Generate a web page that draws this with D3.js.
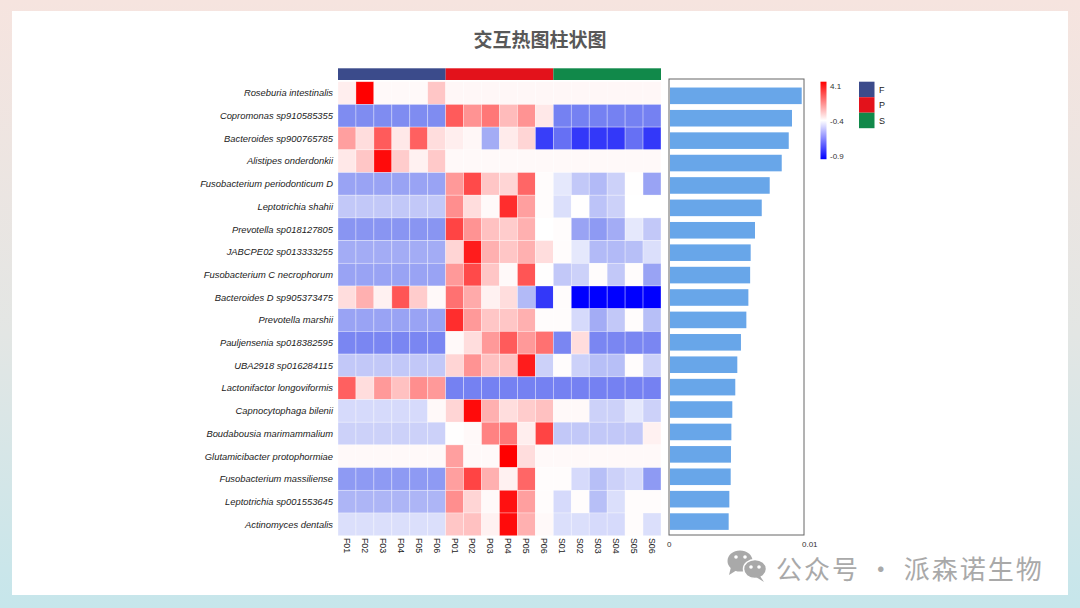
<!DOCTYPE html>
<html>
<head>
<meta charset="utf-8">
<script src="https://cdn.jsdelivr.net/npm/d3@7"></script>
<style>
  body { margin: 0; padding: 0; overflow: hidden; }
  svg { display: block; font-family: "Liberation Sans", Arial, sans-serif; }
</style>
</head>
<body>
<script>
// chart data
const species = [
  'Roseburia intestinalis', 'Copromonas sp910585355', 'Bacteroides sp900765785',
  'Alistipes onderdonkii', 'Fusobacterium periodonticum D', 'Leptotrichia shahii',
  'Prevotella sp018127805', 'JABCPE02 sp013333255', 'Fusobacterium C necrophorum',
  'Bacteroides D sp905373475', 'Prevotella marshii', 'Pauljensenia sp018382595',
  'UBA2918 sp016284115', 'Lactonifactor longoviformis', 'Capnocytophaga bilenii',
  'Boudabousia marimammalium', 'Glutamicibacter protophormiae', 'Fusobacterium massiliense',
  'Leptotrichia sp001553645', 'Actinomyces dentalis'
];

const samples = ['F01', 'F02', 'F03', 'F04', 'F05', 'F06',
                 'P01', 'P02', 'P03', 'P04', 'P05', 'P06',
                 'S01', 'S02', 'S03', 'S04', 'S05', 'S06'];

const groups = ['F', 'P', 'S'];
const groupColors = ['#3b4b8b', '#e3121b', '#11894a'];

// row-scaled values, one row per species, columns in sample order
const heatValues = [
  [-0.1, 4.1, -0.3, -0.3, -0.3, 0.6, -0.25, -0.25, -0.25, -0.25, -0.25, -0.25, -0.25, -0.25, -0.25, -0.25, -0.25, -0.25],
  [-0.65, -0.65, -0.65, -0.65, -0.65, -0.65, 2.5, 1.5, 2.0, 0.8, 1.5, 0.0, -0.67, -0.67, -0.67, -0.67, -0.67, -0.67],
  [1.3, 0.2, 2.5, 0.0, 2.4, 0.2, -0.1, -0.25, -0.58, -0.05, 0.35, -0.79, -0.7, -0.8, -0.8, -0.8, -0.7, -0.8],
  [0.0, 0.6, 3.9, 0.5, -0.15, 0.55, -0.3, -0.3, -0.3, -0.3, -0.3, -0.3, -0.3, -0.3, -0.3, -0.3, -0.3, -0.3],
  [-0.6, -0.6, -0.6, -0.6, -0.6, -0.6, 1.4, 2.8, 0.6, 0.35, 2.3, -0.35, -0.45, -0.52, -0.55, -0.5, -0.38, -0.6],
  [-0.52, -0.52, -0.52, -0.52, -0.52, -0.52, 1.6, 0.2, -0.3, 3.3, 1.3, -0.35, -0.47, -0.38, -0.53, -0.5, -0.4, -0.4],
  [-0.63, -0.63, -0.63, -0.63, -0.63, -0.63, 2.9, 1.5, 0.7, 0.5, 1.0, -0.4, -0.35, -0.6, -0.62, -0.58, -0.45, -0.52],
  [-0.58, -0.58, -0.58, -0.58, -0.58, -0.58, 0.35, 3.6, 1.0, 0.6, 1.0, 0.2, -0.35, -0.45, -0.55, -0.55, -0.54, -0.47],
  [-0.6, -0.6, -0.6, -0.6, -0.6, -0.6, 1.4, 2.8, 0.6, -0.3, 2.6, -0.38, -0.52, -0.5, -0.35, -0.52, -0.35, -0.6],
  [0.2, 1.0, -0.15, 2.6, 0.5, -0.3, 2.1, 1.1, -0.15, 0.2, -0.55, -0.8, -0.35, -0.9, -0.9, -0.9, -0.9, -0.9],
  [-0.6, -0.6, -0.6, -0.6, -0.6, -0.6, 3.3, 1.4, 0.6, 0.6, 1.0, -0.35, -0.35, -0.48, -0.58, -0.52, -0.35, -0.54],
  [-0.66, -0.66, -0.66, -0.66, -0.66, -0.66, -0.3, 0.2, 1.4, 2.5, 1.4, 2.1, -0.66, 0.2, -0.66, -0.66, -0.66, -0.66],
  [-0.52, -0.52, -0.52, -0.52, -0.52, -0.52, 0.35, 1.5, 0.7, 0.7, 3.6, -0.5, -0.35, -0.5, -0.54, -0.54, -0.35, -0.5],
  [2.4, 0.2, 1.4, 0.7, 1.6, 1.4, -0.67, -0.67, -0.67, -0.67, -0.67, -0.67, -0.67, -0.67, -0.67, -0.67, -0.67, -0.67],
  [-0.48, -0.48, -0.48, -0.48, -0.48, -0.3, 0.35, 3.9, 1.0, 0.2, 0.5, 0.7, -0.3, -0.3, -0.5, -0.5, -0.45, -0.5],
  [-0.5, -0.5, -0.5, -0.5, -0.5, -0.5, -0.38, -0.3, 1.8, 2.0, -0.1, 2.9, -0.52, -0.52, -0.52, -0.52, -0.52, -0.15],
  [-0.3, -0.3, -0.3, -0.3, -0.3, -0.3, 1.3, -0.3, -0.3, 4.1, 0.2, -0.3, -0.3, -0.3, -0.3, -0.3, -0.3, -0.3],
  [-0.62, -0.62, -0.62, -0.62, -0.62, -0.62, 1.3, 2.9, 1.0, -0.15, 2.3, -0.35, -0.35, -0.48, -0.54, -0.5, -0.48, -0.62],
  [-0.56, -0.56, -0.56, -0.56, -0.56, -0.56, 1.6, 0.35, -0.3, 3.8, 1.3, -0.35, -0.48, -0.35, -0.54, -0.47, -0.35, -0.35],
  [-0.47, -0.47, -0.47, -0.47, -0.47, -0.47, 0.6, 0.7, -0.15, 3.9, 1.0, -0.3, -0.47, -0.47, -0.48, -0.48, -0.35, -0.47]
];

// mean relative abundance per species
const abundance = [0.00983, 0.00911, 0.00887, 0.00835, 0.00746, 0.00687, 0.00637, 0.00605,
                   0.00601, 0.00588, 0.00573, 0.00533, 0.00506, 0.00491, 0.00469, 0.00462,
                   0.00459, 0.00457, 0.00447, 0.00442];

const legendTicks = [4.1, -0.4, -0.9];
const barTicks = [0, 0.01];

let width = 1080;
let height = 608;

let svg = d3.select('body')
  .append('svg')
  .attr('width', width)
  .attr('height', height);

let defs = svg.append('defs');

// page background
let bg = defs.append('linearGradient')
  .attr('id', 'bg')
  .attr('x1', 0).attr('y1', 0)
  .attr('x2', 0).attr('y2', 1);
bg.append('stop').attr('offset', '0%').attr('stop-color', '#f6e4df');
bg.append('stop').attr('offset', '55%').attr('stop-color', '#e3e6e4');
bg.append('stop').attr('offset', '100%').attr('stop-color', '#c6e6eb');

svg.append('rect')
  .attr('width', width)
  .attr('height', height)
  .attr('fill', 'url(#bg)');

svg.append('rect')
  .attr('x', 12)
  .attr('y', 11)
  .attr('width', 1056)
  .attr('height', 584)
  .attr('fill', '#ffffff');

svg.append('text')
  .attr('x', 540)
  .attr('y', 47)
  .attr('text-anchor', 'middle')
  .style('font-family', '"Noto Sans CJK SC", sans-serif')
  .style('font-size', '19px')
  .style('font-weight', 'bold')
  .attr('fill', '#585858')
  .text('交互热图柱状图');

// scales
let x = d3.scaleBand().domain(samples).range([338, 661]);
let y = d3.scaleBand().domain(species).range([81.7, 535.7]);

let color = d3.scaleLinear()
  .domain([-0.9, -0.65, -0.4, 4.1])
  .range(['#0000ff', '#7f8cf1', '#ffffff', '#ff0000'])
  .clamp(true);

let groupColor = d3.scaleOrdinal().domain(groups).range(groupColors);

// group annotation bar, one block per group
svg.append('g')
  .selectAll('rect')
  .data(groups)
  .enter()
  .append('rect')
  .attr('x', (g) => x(samples.find((s) => s[0] === g)))
  .attr('y', 68.3)
  .attr('width', (g) => samples.filter((s) => s[0] === g).length * x.step())
  .attr('height', 11.7)
  .attr('fill', (g) => groupColor(g));

// heatmap cells
let cells = [];
heatValues.forEach((row, i) => {
  row.forEach((v, j) => {
    cells.push({ sp: species[i], sample: samples[j], value: v });
  });
});

svg.append('g')
  .selectAll('rect')
  .data(cells)
  .enter()
  .append('rect')
  .attr('x', (d) => x(d.sample))
  .attr('y', (d) => y(d.sp))
  .attr('width', x.bandwidth())
  .attr('height', y.bandwidth())
  .attr('fill', (d) => color(d.value))
  .attr('stroke', 'rgba(255,255,255,0.45)')
  .attr('stroke-width', 0.7);

// row labels
svg.append('g')
  .selectAll('text')
  .data(species)
  .enter()
  .append('text')
  .attr('x', 333)
  .attr('y', (d) => y(d) + y.bandwidth() / 2)
  .attr('dy', '0.35em')
  .attr('text-anchor', 'end')
  .style('font-size', '9.4px')
  .style('font-style', 'italic')
  .attr('fill', '#222222')
  .text((d) => d);

// column labels
svg.append('g')
  .selectAll('text')
  .data(samples)
  .enter()
  .append('text')
  .attr('transform', (d) => `translate(${x(d) + x.bandwidth() / 2}, 538) rotate(90)`)
  .attr('dy', '0.35em')
  .style('font-size', '8.8px')
  .attr('fill', '#222222')
  .text((d) => d);

// bar panel
let bx = d3.scaleLinear().domain([0, 0.01]).range([669, 804]);
let by = d3.scaleBand().domain(species).range([81.7, 535.7]).padding(0.26);

svg.append('rect')
  .attr('x', bx(0))
  .attr('y', 79)
  .attr('width', bx(0.01) - bx(0))
  .attr('height', 456)
  .attr('fill', 'none')
  .attr('stroke', '#666666')
  .attr('stroke-width', 1);

svg.append('g')
  .selectAll('rect')
  .data(abundance)
  .enter()
  .append('rect')
  .attr('x', bx(0) + 1)
  .attr('y', (d, i) => by(species[i]))
  .attr('width', (d) => bx(d) - bx(0) - 1)
  .attr('height', by.bandwidth())
  .attr('fill', '#68a6e9');

svg.append('g')
  .selectAll('text')
  .data(barTicks)
  .enter()
  .append('text')
  .attr('x', (d) => bx(d) - 2)
  .attr('y', 547)
  .style('font-size', '8px')
  .attr('fill', '#333333')
  .text((d) => d);

// colour legend
let grad = defs.append('linearGradient')
  .attr('id', 'heatgrad')
  .attr('x1', 0).attr('y1', 0)
  .attr('x2', 0).attr('y2', 1);
grad.append('stop').attr('offset', '0%').attr('stop-color', '#ff0000');
grad.append('stop').attr('offset', '50%').attr('stop-color', '#ffffff');
grad.append('stop').attr('offset', '100%').attr('stop-color', '#0000ff');

svg.append('rect')
  .attr('x', 820.5)
  .attr('y', 81.7)
  .attr('width', 6)
  .attr('height', 77.5)
  .attr('fill', 'url(#heatgrad)');

let ly = d3.scaleLinear().domain([-0.9, -0.4, 4.1]).range([156.5, 121.5, 85.7]);

svg.append('g')
  .selectAll('text')
  .data(legendTicks)
  .enter()
  .append('text')
  .attr('x', 830)
  .attr('y', (d) => ly(d))
  .attr('dy', '0.35em')
  .style('font-size', '8px')
  .attr('fill', '#333333')
  .text((d) => d);

// group legend
let groupLegend = svg.append('g')
  .selectAll('g')
  .data(groups)
  .enter()
  .append('g')
  .attr('transform', (d, i) => `translate(859, ${81.7 + i * 15.5})`);

groupLegend.append('rect')
  .attr('width', 15.5)
  .attr('height', 15.5)
  .attr('fill', (d) => groupColor(d));

groupLegend.append('text')
  .attr('x', 20)
  .attr('y', 7.75)
  .attr('dy', '0.35em')
  .style('font-size', '9px')
  .attr('fill', '#222222')
  .text((d) => d);

// watermark
let wm = svg.append('g').attr('fill', '#a9a9a9');
wm.append('ellipse').attr('cx', 740).attr('cy', 561).attr('rx', 12.5).attr('ry', 10.5);
wm.append('path').attr('d', 'M731,567 L729,575 L737,570 Z');
wm.append('ellipse').attr('cx', 755).attr('cy', 569).attr('rx', 11.5).attr('ry', 9.5)
  .attr('stroke', '#ffffff').attr('stroke-width', 1.5);
wm.append('path').attr('d', 'M760,576 L764,582 L756,577 Z');
[[736, 557], [745, 557], [751, 567], [759, 567]].forEach((p) => {
  wm.append('circle').attr('cx', p[0]).attr('cy', p[1]).attr('r', 1.8).attr('fill', '#ffffff');
});

svg.append('text')
  .attr('x', 776)
  .attr('y', 579)
  .style('font-family', '"Noto Sans CJK SC", sans-serif')
  .style('font-size', '26px')
  .style('letter-spacing', '2px')
  .attr('fill', '#a9a9a9')
  .text('公众号 · 派森诺生物');
</script>
</body>
</html>
